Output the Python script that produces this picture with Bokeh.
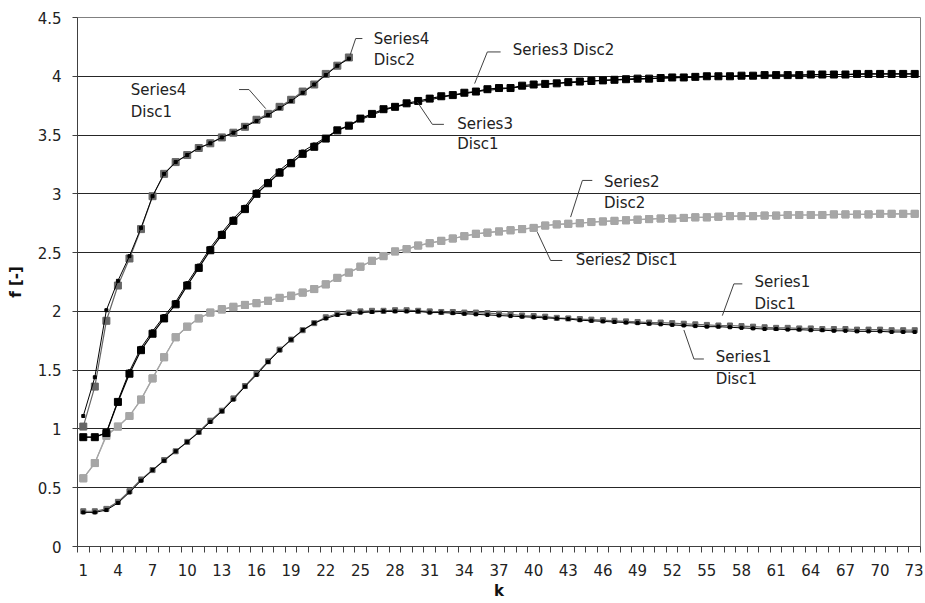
from bokeh.plotting import figure
from bokeh.models import FixedTicker, Range1d, ColumnDataSource
from bokeh.core.properties import value
from bokeh.embed import file_html
from bokeh.resources import INLINE

# ---------------- data ----------------
k_all = list(range(1, 74))
k_s4 = list(range(1, 25))
x_tick_values = list(range(1, 74, 3))
y_tick_values = [0, 0.5, 1, 1.5, 2, 2.5, 3, 3.5, 4, 4.5]
y_tick_labels = ["0", "0.5", "1", "1.5", "2", "2.5", "3", "3.5", "4", "4.5"]

series1_disc1_gray = [
    0.30, 0.30, 0.32, 0.38, 0.47, 0.57, 0.65, 0.735, 0.81, 0.89,
    0.975, 1.07, 1.155, 1.26, 1.365, 1.47, 1.575, 1.675, 1.76, 1.84,
    1.90, 1.95, 1.98, 1.99, 2.0, 2.005, 2.005, 2.01, 2.01, 2.005,
    2.0, 1.995, 1.995, 1.99, 1.99, 1.985, 1.98, 1.975, 1.965, 1.96,
    1.955, 1.945, 1.94, 1.935, 1.93, 1.925, 1.92, 1.915, 1.91, 1.905,
    1.905, 1.90, 1.895, 1.89, 1.885, 1.88, 1.88, 1.875, 1.87, 1.865,
    1.86, 1.86, 1.855, 1.855, 1.85, 1.85, 1.85, 1.845, 1.845, 1.845,
    1.84, 1.84, 1.84]
series1_disc1_black = [
    0.29, 0.29, 0.31, 0.37, 0.46, 0.56, 0.65, 0.73, 0.81, 0.89,
    0.97, 1.06, 1.15, 1.25, 1.36, 1.46, 1.57, 1.67, 1.76, 1.84,
    1.90, 1.94, 1.97, 1.98, 1.99, 1.995, 2.0, 2.0, 2.0, 2.0,
    1.99, 1.99, 1.985, 1.98, 1.975, 1.97, 1.965, 1.96, 1.955, 1.95,
    1.945, 1.94, 1.935, 1.925, 1.92, 1.915, 1.91, 1.905, 1.90, 1.895,
    1.89, 1.885, 1.88, 1.875, 1.87, 1.87, 1.865, 1.86, 1.855, 1.85,
    1.85, 1.845, 1.845, 1.84, 1.84, 1.835, 1.835, 1.83, 1.83, 1.83,
    1.825, 1.825, 1.825]
series2_disc1 = [
    0.58, 0.71, 0.95, 1.02, 1.11, 1.25, 1.43, 1.61, 1.78, 1.87,
    1.94, 1.99, 2.015, 2.035, 2.055, 2.07, 2.09, 2.115, 2.135, 2.16,
    2.19, 2.23, 2.285, 2.33, 2.38, 2.43, 2.47, 2.51, 2.53, 2.56,
    2.58, 2.60, 2.62, 2.64, 2.66, 2.67, 2.68, 2.69, 2.70, 2.71,
    2.73, 2.74, 2.745, 2.75, 2.76, 2.765, 2.77, 2.775, 2.78, 2.785,
    2.79, 2.79, 2.795, 2.80, 2.80, 2.805, 2.81, 2.81, 2.81, 2.815,
    2.815, 2.82, 2.82, 2.82, 2.82, 2.825, 2.825, 2.825, 2.825, 2.83,
    2.83, 2.83, 2.83]
series2_disc2 = [
    0.58, 0.71, 0.94, 1.02, 1.11, 1.25, 1.43, 1.61, 1.78, 1.87,
    1.94, 1.99, 2.02, 2.04, 2.055, 2.07, 2.09, 2.115, 2.13, 2.16,
    2.19, 2.23, 2.285, 2.33, 2.38, 2.43, 2.47, 2.51, 2.53, 2.56,
    2.58, 2.60, 2.62, 2.64, 2.66, 2.67, 2.68, 2.69, 2.70, 2.71,
    2.73, 2.74, 2.745, 2.75, 2.76, 2.765, 2.77, 2.775, 2.78, 2.785,
    2.79, 2.79, 2.795, 2.80, 2.80, 2.805, 2.81, 2.81, 2.81, 2.815,
    2.815, 2.82, 2.82, 2.82, 2.82, 2.825, 2.825, 2.825, 2.825, 2.83,
    2.83, 2.83, 2.83]
series3_disc1 = [
    0.93, 0.93, 0.97, 1.24, 1.49, 1.69, 1.83, 1.96, 2.08, 2.24,
    2.39, 2.54, 2.67, 2.79, 2.89, 3.02, 3.11, 3.20, 3.28, 3.36,
    3.42, 3.48, 3.54, 3.58, 3.63, 3.67, 3.71, 3.74, 3.76, 3.78,
    3.80, 3.82, 3.84, 3.85, 3.87, 3.88, 3.89, 3.90, 3.91, 3.92,
    3.93, 3.94, 3.945, 3.95, 3.96, 3.965, 3.97, 3.97, 3.975, 3.98,
    3.985, 3.985, 3.99, 3.99, 3.995, 4.0, 4.0, 4.0, 4.005, 4.005,
    4.01, 4.01, 4.01, 4.01, 4.015, 4.015, 4.015, 4.015, 4.02, 4.02,
    4.02, 4.02, 4.02]
series3_disc2 = [
    0.93, 0.93, 0.965, 1.23, 1.47, 1.67, 1.81, 1.94, 2.06, 2.22,
    2.37, 2.52, 2.65, 2.77, 2.87, 3.00, 3.09, 3.18, 3.26, 3.34,
    3.40, 3.47, 3.54, 3.58, 3.64, 3.68, 3.72, 3.74, 3.77, 3.79,
    3.81, 3.83, 3.84, 3.86, 3.87, 3.89, 3.90, 3.90, 3.92, 3.93,
    3.935, 3.94, 3.95, 3.955, 3.96, 3.965, 3.97, 3.975, 3.98, 3.98,
    3.985, 3.99, 3.99, 3.995, 4.0, 4.0, 4.0, 4.005, 4.005, 4.01,
    4.01, 4.01, 4.01, 4.015, 4.015, 4.015, 4.015, 4.02, 4.02, 4.02,
    4.02, 4.02, 4.02]
series4_disc1 = [
    1.11, 1.44, 2.01, 2.26, 2.47, 2.71, 2.98, 3.17, 3.27, 3.33,
    3.39, 3.43, 3.48, 3.52, 3.57, 3.62, 3.67, 3.73, 3.79, 3.86,
    3.93, 4.01, 4.09, 4.15]
series4_disc2 = [
    1.02, 1.36, 1.92, 2.22, 2.45, 2.70, 2.98, 3.17, 3.27, 3.33,
    3.39, 3.43, 3.48, 3.52, 3.57, 3.63, 3.68, 3.74, 3.80, 3.87,
    3.93, 4.02, 4.09, 4.16]

# series labels (one entry per text line) in data coordinates
label_text = ["Series4", "Disc2", "Series3 Disc2", "Series4", "Disc1",
              "Series3", "Disc1", "Series2", "Disc2", "Series2 Disc1",
              "Series1", "Disc1", "Series1", "Disc1"]
label_k = [26.15, 26.15, 38.18, 5.11, 5.11, 33.39, 33.39, 46.09, 46.09,
           43.64, 59.13, 59.13, 55.76, 55.76]
label_f = [4.315, 4.136, 4.22, 3.881, 3.693, 3.597, 3.427, 3.100, 2.924,
           2.433, 2.248, 2.064, 1.609, 1.425]
# leader lines
leader_k = [[25.17, 24.59, 24.10], [37.14, 35.99, 34.89], [14.49, 15.35, 16.80],
            [32.23, 31.23, 29.93], [45.08, 44.22, 43.20], [42.48, 41.47, 40.32],
            [58.07, 57.34, 56.34], [54.74, 53.88, 53.01]]
leader_f = [[4.321, 4.321, 4.179], [4.207, 4.207, 3.938], [3.887, 3.887, 3.725],
            [3.591, 3.591, 3.781], [3.114, 3.114, 2.802], [2.433, 2.433, 2.674],
            [2.234, 2.234, 1.964], [1.595, 1.595, 1.842]]

FONT = "DejaVu Sans"

p = figure(width=923, height=602, output_backend="svg", toolbar_location=None,
           x_range=Range1d(0.5, 73.5), y_range=Range1d(0, 4.5),
           min_border_left=77, min_border_right=3, min_border_top=17,
           min_border_bottom=56)
p.background_fill_color = "white"
p.border_fill_color = "white"
p.outline_line_color = "#808080"
p.outline_line_width = 1

# grid
p.xgrid.visible = False
p.ygrid.ticker = FixedTicker(ticks=y_tick_values)
p.ygrid.grid_line_color = "#262626"
p.ygrid.grid_line_width = 1

# x axis
p.xaxis.ticker = FixedTicker(ticks=x_tick_values,
                             minor_ticks=[i + 0.5 for i in range(0, 74)])
p.xaxis.major_tick_line_color = None
p.xaxis.major_tick_out = 6
p.xaxis.major_tick_in = 0
p.xaxis.minor_tick_line_color = "#404040"
p.xaxis.minor_tick_out = 6
p.xaxis.minor_tick_in = 0
p.xaxis.axis_line_color = "#404040"
p.xaxis.major_label_standoff = 11
p.xaxis.major_label_text_font = FONT
p.xaxis.major_label_text_font_size = "15px"
p.xaxis.major_label_text_color = "#222222"
p.xaxis.axis_label = "k"
p.xaxis.axis_label_text_font = FONT
p.xaxis.axis_label_text_font_size = "15px"
p.xaxis.axis_label_text_font_style = "bold"
p.xaxis.axis_label_text_color = "#111111"
p.xaxis.axis_label_standoff = 3

# y axis
p.yaxis.ticker = FixedTicker(ticks=y_tick_values)
p.yaxis.major_label_overrides = {v: s for v, s in zip(y_tick_values, y_tick_labels)}
p.yaxis.minor_tick_line_color = None
p.yaxis.major_tick_out = 5
p.yaxis.major_tick_in = 0
p.yaxis.major_tick_line_color = "#404040"
p.yaxis.axis_line_color = "#404040"
p.yaxis.major_label_standoff = 11
p.yaxis.major_label_text_font = FONT
p.yaxis.major_label_text_font_size = "15px"
p.yaxis.major_label_text_color = "#222222"
p.yaxis.axis_label = "f [-]"
p.yaxis.axis_label_text_font = FONT
p.yaxis.axis_label_text_font_size = "15px"
p.yaxis.axis_label_text_font_style = "bold"
p.yaxis.axis_label_text_color = "#111111"
p.yaxis.axis_label_standoff = 10

# series
GRAY_DARK = "#666666"
GRAY_LIGHT = "#a6a6a6"

# Series1
p.line(k_all, series1_disc1_gray, line_color=GRAY_DARK, line_width=1.2)
p.scatter(k_all, series1_disc1_gray, marker="square", size=5,
          fill_color=GRAY_DARK, line_color=GRAY_DARK)
p.line(k_all, series1_disc1_black, line_color="black", line_width=1)
p.scatter(k_all, series1_disc1_black, marker="square", size=3,
          fill_color="black", line_color="black")

# Series2
p.line(k_all, series2_disc1, line_color=GRAY_LIGHT, line_width=1.2)
p.scatter(k_all, series2_disc1, marker="square", size=7,
          fill_color=GRAY_LIGHT, line_color=GRAY_LIGHT)
p.line(k_all, series2_disc2, line_color=GRAY_LIGHT, line_width=1.2)
p.scatter(k_all, series2_disc2, marker="square", size=7,
          fill_color=GRAY_LIGHT, line_color=GRAY_LIGHT)

# Series3
p.line(k_all, series3_disc2, line_color="black", line_width=1.2)
p.scatter(k_all, series3_disc2, marker="square", size=7,
          fill_color="black", line_color="black")
p.line(k_all, series3_disc1, line_color="black", line_width=1)
p.scatter(k_all, series3_disc1, marker="square", size=3,
          fill_color="black", line_color="black")

# Series4
p.line(k_s4, series4_disc2, line_color=GRAY_DARK, line_width=1.2)
p.scatter(k_s4, series4_disc2, marker="square", size=7,
          fill_color=GRAY_DARK, line_color=GRAY_DARK)
p.line(k_s4, series4_disc1, line_color="black", line_width=1)
p.scatter(k_s4, series4_disc1, marker="square", size=3,
          fill_color="black", line_color="black")

# labels and leaders
p.multi_line(leader_k, leader_f, line_color="#404040", line_width=1)
src = ColumnDataSource(dict(x=label_k, y=label_f, t=label_text))
p.text(x="x", y="y", text="t", source=src, text_font=value(FONT),
       text_font_size=value("15px"), text_color="#222222",
       text_baseline="middle", text_align="left")

open("out.html", "w").write(file_html(p, INLINE))
